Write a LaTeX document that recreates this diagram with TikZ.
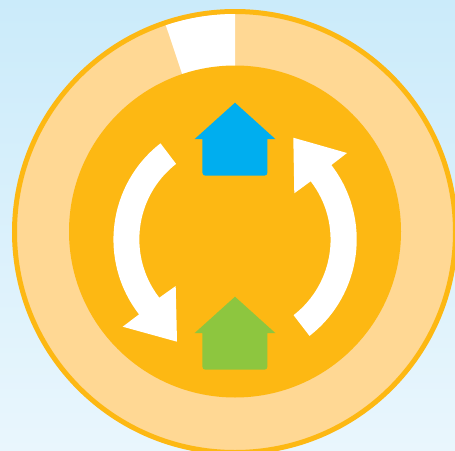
\documentclass[tikz,border=0pt]{standalone}
\tikzset{
  px/.style={x=1pt,y=-1pt},
  band/.style={fill=white},
}
\definecolor{skyTop}{HTML}{CBEBFA}
\definecolor{skyBot}{HTML}{E9F6FD}
\definecolor{ringOrange}{HTML}{FDB813}
\definecolor{ringPale}{HTML}{FFD894}
\definecolor{roofBlue}{HTML}{00AEEF}
\definecolor{roofGreen}{HTML}{8DC63F}
\newcommand{\myhouse}[2]{%
  \fill[#2] (235,#1) -- (275.4,#1+36.4) -- (267.4,#1+36.4) -- (267.4,#1+70) arc[start angle=0,end angle=90,radius=3]
   -- (205.4,#1+73) arc[start angle=90,end angle=180,radius=3] -- (202.4,#1+36.4) -- (194.6,#1+36.4) -- cycle;}
\begin{document}
\begin{tikzpicture}[px]
\useasboundingbox (0,0) rectangle (455,450);
\clip (0,0) rectangle (455,450);
\shade[top color=skyTop,bottom color=skyBot] (0,0) rectangle (455,450);
% outer ring
\fill[ringPale,draw=ringOrange,line width=5pt] (235,232) circle[radius=220.5];
% white sector of the ring
\fill[white] (235,232) -- (235,14) arc[start angle=-90,end angle=-108.5,radius=218] -- cycle;
% inner disc
\fill[ringOrange] (235,231.5) circle[radius=166];
% left arrow
\fill[band] (160.5,143.3) arc[start angle=-127.9,end angle=-217.8,radius=122]
  -- (122.7,326.7) -- (177,341.7) -- (175.7,286) -- (159.3,297.7)
  arc[start angle=-217.7,end angle=-128,radius=95.6] -- cycle;
% right arrow
\fill[band] (309.5,335.9) arc[start angle=52.2,end angle=-37.6,radius=122]
  -- (347,153) -- (293.3,137.7) -- (294.3,193.3) -- (310.7,181.3)
  arc[start angle=-37.6,end angle=52.2,radius=95.6] -- cycle;
% houses
\myhouse{102.7}{roofBlue}
\myhouse{296.7}{roofGreen}
\end{tikzpicture}
\end{document}
